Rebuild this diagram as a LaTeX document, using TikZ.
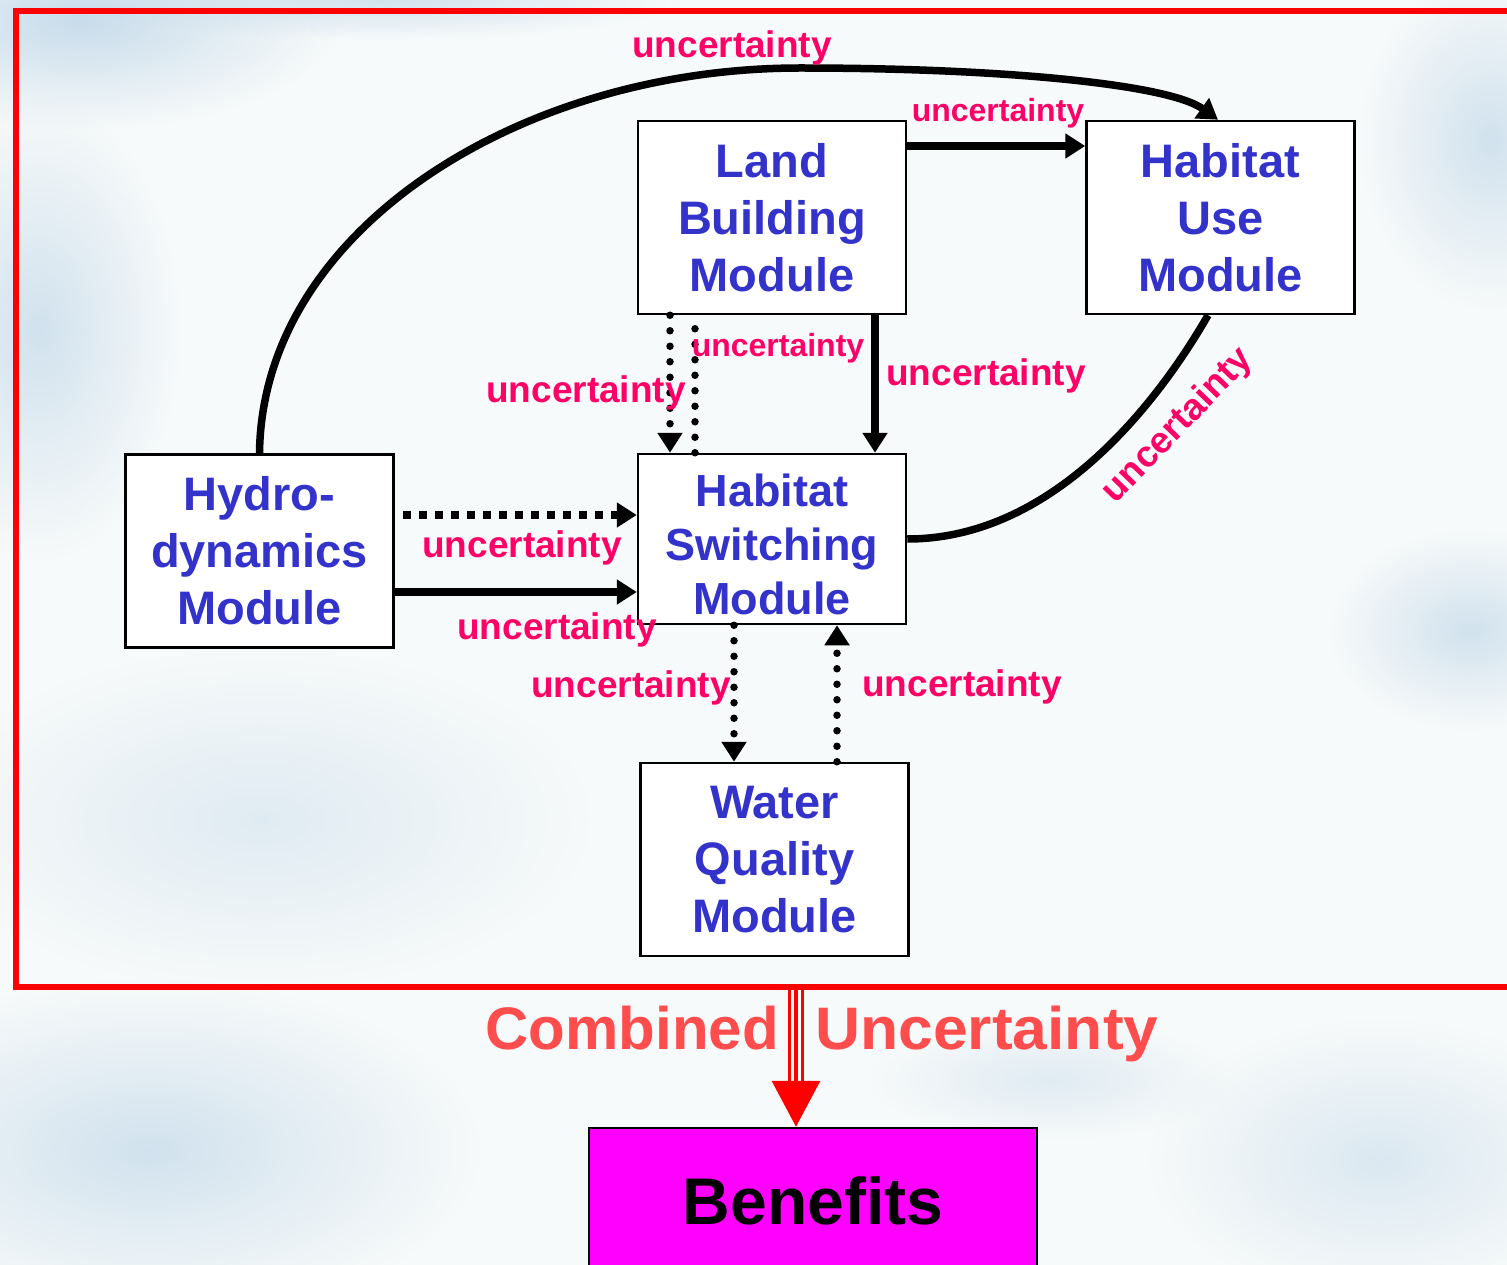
\documentclass[tikz,border=0pt]{standalone}
\usepackage{fontspec}
\setmainfont{Liberation Sans}
\usetikzlibrary{arrows.meta,fadings,calc}
\definecolor{modblue}{HTML}{3333CC}
\definecolor{unc}{HTML}{FF0066}
\definecolor{combred}{HTML}{FF4C4C}
\definecolor{sky}{HTML}{C8DCEB}
\definecolor{bgwhite}{HTML}{F7FAFA}
\definecolor{benfill}{HTML}{FF00FF}
\tikzfading[name=fuzzy, inner color=transparent!0, outer color=transparent!100]

\begin{document}
\begin{tikzpicture}[x=1pt,y=-1pt,
  module/.style={draw=black, line width=2.5pt, fill=white, text=modblue,
    align=center, inner sep=0pt, minimum width=268pt, minimum height=193pt,
    font=\bfseries\fontsize{47}{57}\selectfont},
  lab/.style={text=unc, inner sep=0pt, font=\bfseries\fontsize{37}{40}\selectfont},
  labs/.style={text=unc, inner sep=0pt, font=\bfseries\fontsize{32}{36}\selectfont},
  comb/.style={text=combred, inner sep=0pt, font=\bfseries\fontsize{60}{64}\selectfont},
  conn/.style={line width=7.5pt},
  tip/.style={-{Triangle[length=20pt,width=24pt]}},
  dots/.style={line width=7.5pt, line cap=round, dash pattern=on 0pt off 15.5pt},
  sqdots/.style={line width=7.5pt, dash pattern=on 8pt off 8pt, dash phase=8pt},
  cloud/.style={fill=sky, path fading=fuzzy}
]
\useasboundingbox (0,0) rectangle (1507,1265);

% sky background
\fill[bgwhite] (0,0) rectangle (1507,1265);
\fill[cloud] (80,20) ellipse (260 and 110);
\fill[cloud, opacity=0.8] (380,0) ellipse (300 and 40);
\fill[cloud, opacity=0.8] (40,330) ellipse (140 and 230);
\fill[cloud, opacity=0.5] (260,820) ellipse (330 and 170);
\fill[cloud, opacity=0.8] (1490,140) ellipse (130 and 170);
\fill[cloud, opacity=0.8] (1470,630) ellipse (140 and 100);
\fill[cloud, opacity=0.8] (150,1150) ellipse (330 and 170);
\fill[cloud, opacity=0.6] (1380,1160) ellipse (230 and 140);
\fill[cloud, opacity=0.5] (1050,1080) ellipse (180 and 60);

% outer frame
\node[draw=red, line width=6pt, minimum width=1518pt, minimum height=976pt,
      inner sep=0pt, anchor=north west] (frame) at (13,8) {};

% modules
\node[module] (land)   at (772,217.5)    {Land\\Building\\Module};
\node[module] (habuse) at (1220.5,217.5) {Habitat\\Use\\Module};
\node[module] (hydro)  at (259.5,551)    {Hydro-\\dynamics\\Module};
\node[module, minimum height=170pt, font=\bfseries\fontsize{45}{54}\selectfont]
      (sw) at (772,539)
      {\raisebox{-5pt}[\height][\depth]{\parbox{260pt}{\centering Habitat\\Switching\\Module}}};
\node[module] (water)  at (774.5,859.5)  {Water\\Quality\\Module};
\node[draw=black, line width=2.5pt, fill=benfill, inner sep=0pt,
      minimum width=448pt, minimum height=146pt,
      font=\bfseries\fontsize{66}{70}\selectfont] (ben) at (813,1201) {Benefits};

% connectors
\draw[conn,tip] (hydro.north) .. controls (262,230) and (520,68) .. (800,68)
      .. controls (1000,68) and (1168,84) .. (1218,0 |- habuse.north);
\draw[conn,tip] (land.east |- 0,146) -- (habuse.west |- 0,146);
\draw[conn,tip] (875,0 |- land.south) -- (875,0 |- sw.north);
\draw[dots,tip] (670,0 |- land.south) -- (670,0 |- sw.north);
\draw[dots] (695,0 |- sw.north) -- (695,0 |- land.south);
\draw[sqdots,tip] (hydro.east |- 0,515) -- (sw.west |- 0,515);
\draw[conn,tip] (hydro.east |- 0,592) -- (sw.west |- 0,592);
\draw[dots,tip] (734,0 |- sw.south) -- (734,0 |- water.north);
\draw[dots,tip] (837,0 |- water.north) -- (837,0 |- sw.south);
\draw[conn] (sw.east |- 0,539) .. controls (1060,539) and (1165,390) .. (1208,0 |- habuse.south);

% uncertainty labels
\node[lab]  (u1)  at (732,48)   {uncertainty};
\node[labs] (u2)  at (998,113)  {uncertainty};
\node[labs] (u3)  at (778,348)  {uncertainty};
\node[lab]  (u4)  at (586,393)  {uncertainty};
\node[lab]  (u5)  at (986,376)  {uncertainty};
\node[lab]  (u6)  at (522,548)  {uncertainty};
\node[lab]  (u7)  at (557,630)  {uncertainty};
\node[lab]  (u8)  at (631,688)  {uncertainty};
\node[lab]  (u9)  at (962,687)  {uncertainty};
\node[lab, rotate=46] (u10) at (1178,426) {uncertainty};

% combined uncertainty flowing into benefits
\coordinate (ca) at (796,0 |- frame.south);
\draw[red, line width=3.5pt] ($(ca)+(-6.5,-3)$) -- ($(ca)+(-6.5,98)$);
\draw[red, line width=3.5pt] ($(ca)+(6.5,-3)$) -- ($(ca)+(6.5,98)$);
\draw[red, line width=3.5pt, -{Triangle[length=46pt,width=48pt]}]
      ($(ca)+(0,-3)$) -- (796,0 |- ben.north);
\node[comb, anchor=base east] (c1) at (779,1049) {Combined};
\node[comb, anchor=base west, xscale=1.04] (c2) at (815,1049) {Uncertainty};
\end{tikzpicture}
\end{document}
